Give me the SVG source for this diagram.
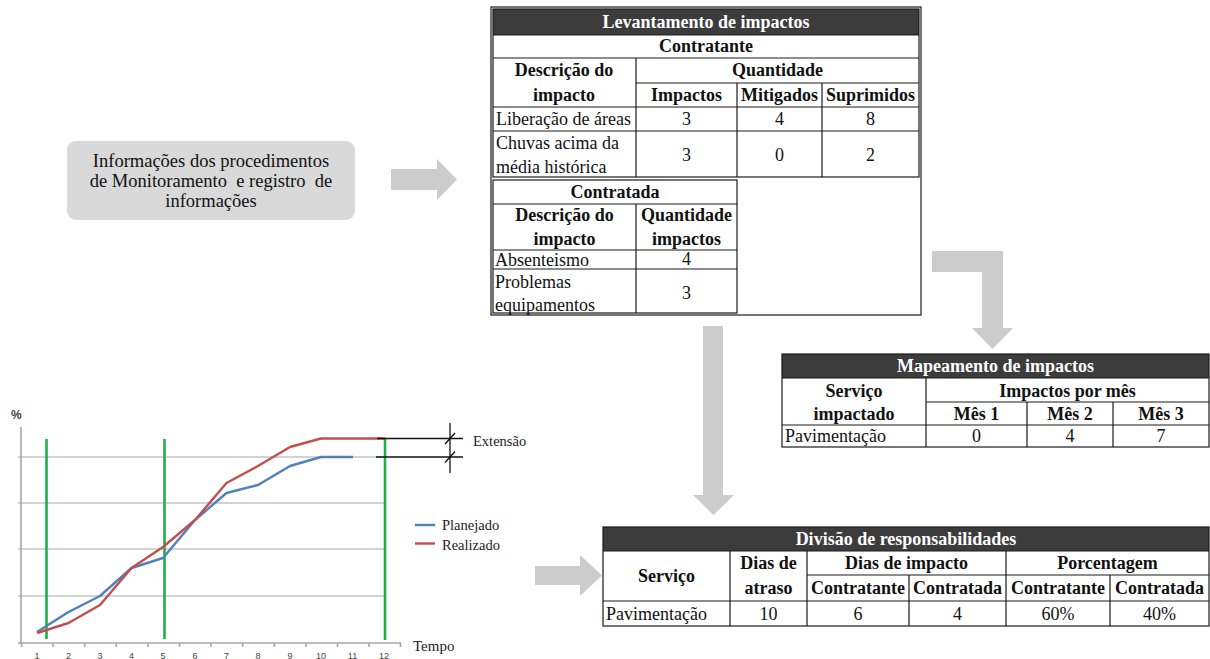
<svg xmlns="http://www.w3.org/2000/svg" width="1210" height="659" viewBox="0 0 1210 659">
<style>
  .bg{fill:#ffffff}
  .hdr{fill:#3c3c3c}
  .frame{fill:none;stroke:#1a1a1a;stroke-width:1.2}
  .ln{stroke:#1a1a1a;stroke-width:1.2}
  .t{font-family:"Liberation Serif","Times New Roman",serif;font-size:18px;fill:#111}
  .b{font-weight:bold}
  .w{fill:#ffffff;font-weight:bold}
  .c{text-anchor:middle}
  .arrow{fill:#cccccc}
  .grid{stroke:#c4c4c4;stroke-width:1.6}
  .axis{stroke:#a6a6a6;stroke-width:1.6}
  .green{stroke:#1fae4a;stroke-width:2.6}
  .ct{font-family:"Liberation Serif","Times New Roman",serif;fill:#222}
  .tick{font-family:"Liberation Sans",Arial,sans-serif;font-size:9px;fill:#444;text-anchor:middle}
  .blk{stroke:#111;stroke-width:1.3}
</style>
<rect class="bg" x="0" y="0" width="1210" height="659"/>

<g id="connectors">
  <polygon class="arrow" points="391,169 437,169 437,159 457,179.5 437,200 437,190 391,190"/>
  <polygon class="arrow" points="932,251 1003,251 1003,328 1013,328 992.5,349 972,328 982,328 982,272 932,272"/>
  <polygon class="arrow" points="703,326 723,326 723,495 734,495 713.5,515 693,495 703,495"/>
  <polygon class="arrow" points="535,566 580,566 580,555 602,575.5 580,596 580,585 535,585"/>
</g>

<g id="info-box">
  <rect x="67" y="141" width="288" height="79" rx="9" ry="9" fill="#d9d9d9"/>
  <text class="t c" x="211" y="167" style="font-size:18.5px">Informações dos procedimentos</text>
  <text class="t c" x="211" y="187" style="font-size:18.5px" xml:space="preserve">de Monitoramento  e registro  de</text>
  <text class="t c" x="211" y="207" style="font-size:18.5px">informações</text>
</g>

<g id="table-levantamento">
  <rect class="frame" x="491" y="7" width="430" height="308"/>
  <!-- Contratante -->
  <rect class="hdr" x="493" y="9" width="426" height="26"/>
  <rect class="frame" x="493" y="9" width="426" height="168"/>
  <line class="ln" x1="493" y1="35" x2="919" y2="35"/>
  <line class="ln" x1="493" y1="58" x2="919" y2="58"/>
  <line class="ln" x1="636" y1="83" x2="919" y2="83"/>
  <line class="ln" x1="493" y1="107" x2="919" y2="107"/>
  <line class="ln" x1="493" y1="131" x2="919" y2="131"/>
  <line class="ln" x1="636" y1="58" x2="636" y2="177"/>
  <line class="ln" x1="737" y1="83" x2="737" y2="177"/>
  <line class="ln" x1="822" y1="83" x2="822" y2="177"/>
  <text class="t w c" x="706" y="28">Levantamento de impactos</text>
  <text class="t b c" x="706" y="52">Contratante</text>
  <text class="t b c" x="564" y="76">Descrição do</text>
  <text class="t b c" x="564" y="101">impacto</text>
  <text class="t b c" x="777.5" y="76">Quantidade</text>
  <text class="t b c" x="686.5" y="101">Impactos</text>
  <text class="t b c" x="779.5" y="101">Mitigados</text>
  <text class="t b c" x="870.5" y="101">Suprimidos</text>
  <text class="t" x="496" y="125">Liberação de áreas</text>
  <text class="t c" x="686.5" y="125">3</text>
  <text class="t c" x="779.5" y="125">4</text>
  <text class="t c" x="870.5" y="125">8</text>
  <text class="t" x="496" y="149">Chuvas acima da</text>
  <text class="t" x="496" y="173">média histórica</text>
  <text class="t c" x="686.5" y="161">3</text>
  <text class="t c" x="779.5" y="161">0</text>
  <text class="t c" x="870.5" y="161">2</text>
  <!-- Contratada -->
  <rect class="frame" x="493" y="180" width="244" height="133"/>
  <line class="ln" x1="493" y1="204" x2="737" y2="204"/>
  <line class="ln" x1="493" y1="250" x2="737" y2="250"/>
  <line class="ln" x1="493" y1="269" x2="737" y2="269"/>
  <line class="ln" x1="636" y1="204" x2="636" y2="313"/>
  <text class="t b c" x="615" y="198">Contratada</text>
  <text class="t b c" x="564.5" y="221">Descrição do</text>
  <text class="t b c" x="564.5" y="245">impacto</text>
  <text class="t b c" x="686.5" y="221">Quantidade</text>
  <text class="t b c" x="686.5" y="245">impactos</text>
  <text class="t" x="495" y="266">Absenteismo</text>
  <text class="t c" x="686.5" y="265">4</text>
  <text class="t" x="495" y="288">Problemas</text>
  <text class="t" x="495" y="311">equipamentos</text>
  <text class="t c" x="686.5" y="299">3</text>
</g>

<g id="table-mapeamento">
  <rect class="hdr" x="782" y="354" width="427" height="24"/>
  <rect class="frame" x="782" y="354" width="427" height="93"/>
  <line class="ln" x1="782" y1="378" x2="1209" y2="378"/>
  <line class="ln" x1="926" y1="402" x2="1209" y2="402"/>
  <line class="ln" x1="782" y1="425" x2="1209" y2="425"/>
  <line class="ln" x1="926" y1="378" x2="926" y2="447"/>
  <line class="ln" x1="1027" y1="402" x2="1027" y2="447"/>
  <line class="ln" x1="1113" y1="402" x2="1113" y2="447"/>
  <text class="t w c" x="995.5" y="372">Mapeamento de impactos</text>
  <text class="t b c" x="854" y="397">Serviço</text>
  <text class="t b c" x="854" y="420">impactado</text>
  <text class="t b c" x="1067.5" y="397">Impactos por mês</text>
  <text class="t b c" x="976.5" y="420">Mês 1</text>
  <text class="t b c" x="1070" y="420">Mês 2</text>
  <text class="t b c" x="1161" y="420">Mês 3</text>
  <text class="t" x="785" y="442">Pavimentação</text>
  <text class="t c" x="976.5" y="442">0</text>
  <text class="t c" x="1070" y="442">4</text>
  <text class="t c" x="1161" y="442">7</text>
</g>

<g id="table-divisao">
  <rect class="hdr" x="603" y="527" width="606" height="24"/>
  <rect class="frame" x="603" y="527" width="606" height="99"/>
  <line class="ln" x1="603" y1="551" x2="1209" y2="551"/>
  <line class="ln" x1="807" y1="575" x2="1209" y2="575"/>
  <line class="ln" x1="603" y1="601" x2="1209" y2="601"/>
  <line class="ln" x1="730" y1="551" x2="730" y2="626"/>
  <line class="ln" x1="807" y1="551" x2="807" y2="626"/>
  <line class="ln" x1="909" y1="575" x2="909" y2="626"/>
  <line class="ln" x1="1006" y1="551" x2="1006" y2="626"/>
  <line class="ln" x1="1110" y1="575" x2="1110" y2="626"/>
  <text class="t w c" x="906" y="545">Divisão de responsabilidades</text>
  <text class="t b c" x="666.5" y="582">Serviço</text>
  <text class="t b c" x="768.5" y="569">Dias de</text>
  <text class="t b c" x="768.5" y="594">atraso</text>
  <text class="t b c" x="906.5" y="569">Dias de impacto</text>
  <text class="t b c" x="1107.5" y="569">Porcentagem</text>
  <text class="t b c" x="858" y="594">Contratante</text>
  <text class="t b c" x="957.5" y="594">Contratada</text>
  <text class="t b c" x="1058" y="594">Contratante</text>
  <text class="t b c" x="1159.5" y="594">Contratada</text>
  <text class="t" x="606" y="620">Pavimentação</text>
  <text class="t c" x="768.5" y="620">10</text>
  <text class="t c" x="858" y="620">6</text>
  <text class="t c" x="957.5" y="620">4</text>
  <text class="t c" x="1058" y="620">60%</text>
  <text class="t c" x="1159.5" y="620">40%</text>
</g>

<g id="chart">
  <text class="ct" x="11" y="419" style="font-size:12px;font-family:'Liberation Sans',Arial,sans-serif;font-weight:bold;fill:#444">%</text>
  <!-- gridlines -->
  <line class="grid" x1="18" y1="457" x2="385" y2="457"/>
  <line class="grid" x1="18" y1="503" x2="385" y2="503"/>
  <line class="grid" x1="18" y1="549" x2="385" y2="549"/>
  <line class="grid" x1="18" y1="596" x2="385" y2="596"/>
  <!-- axes -->
  <line class="axis" x1="21" y1="427" x2="21" y2="643"/>
  <line class="axis" x1="18" y1="643" x2="401" y2="643"/>
  <g class="axis">
    <line x1="21.5" y1="643" x2="21.5" y2="647"/>
    <line x1="53" y1="643" x2="53" y2="647"/>
    <line x1="84.7" y1="643" x2="84.7" y2="647"/>
    <line x1="116.3" y1="643" x2="116.3" y2="647"/>
    <line x1="148" y1="643" x2="148" y2="647"/>
    <line x1="179.5" y1="643" x2="179.5" y2="647"/>
    <line x1="211" y1="643" x2="211" y2="647"/>
    <line x1="242.7" y1="643" x2="242.7" y2="647"/>
    <line x1="274.3" y1="643" x2="274.3" y2="647"/>
    <line x1="306" y1="643" x2="306" y2="647"/>
    <line x1="337.5" y1="643" x2="337.5" y2="647"/>
    <line x1="369" y1="643" x2="369" y2="647"/>
    <line x1="400.5" y1="643" x2="400.5" y2="647"/>
  </g>
  <text class="tick" x="37" y="659">1</text>
  <text class="tick" x="68.5" y="659">2</text>
  <text class="tick" x="100" y="659">3</text>
  <text class="tick" x="131.5" y="659">4</text>
  <text class="tick" x="163" y="659">5</text>
  <text class="tick" x="195" y="659">6</text>
  <text class="tick" x="226.5" y="659">7</text>
  <text class="tick" x="258" y="659">8</text>
  <text class="tick" x="290" y="659">9</text>
  <text class="tick" x="321" y="659">10</text>
  <text class="tick" x="352.5" y="659">11</text>
  <text class="tick" x="384" y="659">12</text>
  <!-- green verticals -->
  <line class="green" x1="46.5" y1="439" x2="46.5" y2="639"/>
  <line class="green" x1="164.5" y1="439" x2="164.5" y2="639"/>
  <line class="green" x1="385" y1="438" x2="385" y2="640"/>
  <!-- series -->
  <polyline fill="none" stroke="#4f81bd" stroke-width="2.4" stroke-linejoin="round" points="37,632 68.5,612 100,596 131.5,568 163,558 195,520 226.5,493 258,485 290,466 321,457 353,457"/>
  <polyline fill="none" stroke="#c0504d" stroke-width="2.4" stroke-linejoin="round" points="37,633 68.5,623 100,605 131.5,568 163,547 195,520 226.5,483 258,466 290,447 321,438.5 385,438.5"/>
  <!-- extension marker -->
  <line class="blk" x1="377" y1="438.5" x2="463" y2="438.5"/>
  <line class="blk" x1="376" y1="457" x2="463" y2="457"/>
  <line class="blk" x1="450" y1="423" x2="450" y2="473"/>
  <line class="blk" x1="445" y1="444" x2="455" y2="433"/>
  <line class="blk" x1="445" y1="462.5" x2="455" y2="451.5"/>
  <text class="ct" x="473" y="446" style="font-size:14.5px">Extensão</text>
  <!-- legend -->
  <line x1="415" y1="525" x2="435" y2="525" stroke="#4f81bd" stroke-width="2.4"/>
  <text class="ct" x="442" y="530" style="font-size:14.5px">Planejado</text>
  <line x1="415" y1="543.5" x2="435" y2="543.5" stroke="#c0504d" stroke-width="2.4"/>
  <text class="ct" x="442" y="550" style="font-size:14.5px">Realizado</text>
  <text class="ct" x="413" y="651" style="font-size:15px">Tempo</text>
</g>
</svg>
